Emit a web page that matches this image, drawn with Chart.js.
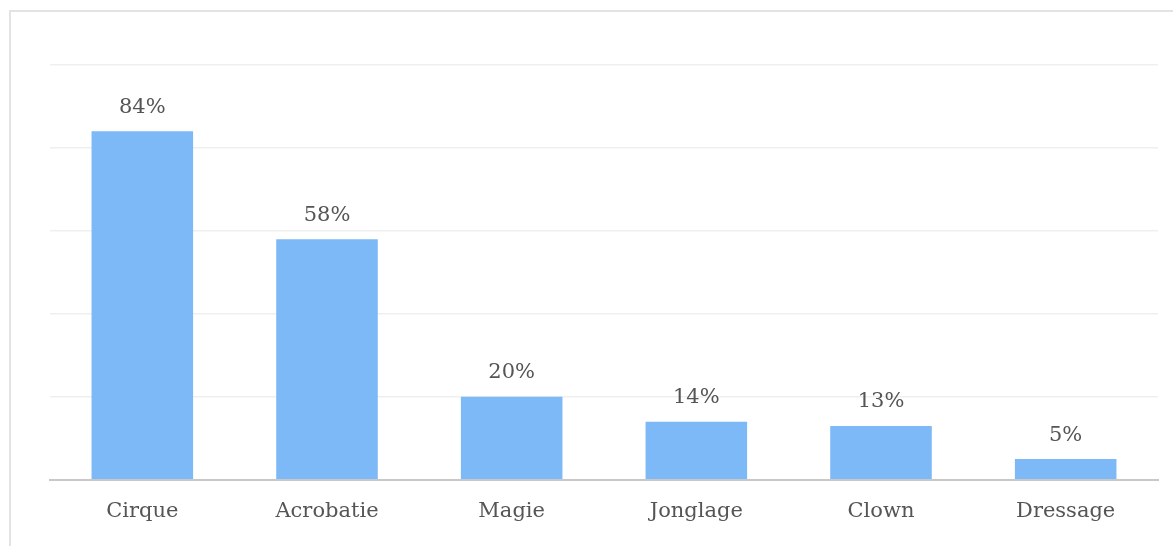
<!DOCTYPE html>
<html>
<head>
<meta charset="utf-8">
<script src="https://cdn.jsdelivr.net/npm/chart.js@4"></script>
<style>
  body { margin: 0; background: #fff; overflow: hidden; }
  #frame { position: absolute; left: 9px; top: 10px; width: 1200px; height: 600px; border: 2px solid #e3e3e3; }
  #wrap { position: absolute; left: 0; top: 0; width: 1173px; height: 546px; }
</style>
</head>
<body>
<div id="frame"></div>
<div id="wrap"><canvas id="chart"></canvas></div>
<script>
const categories = ['Cirque', 'Acrobatie', 'Magie', 'Jonglage', 'Clown', 'Dressage'];
const values = [84, 58, 20, 14, 13, 5];

const fontFamily = '"DejaVu Serif", serif';
const textColor = '#555555';

// draws the percentage above each bar
const valueLabels = {
    id: 'valueLabels',
    afterDatasetsDraw(chart) {
        const ctx = chart.ctx;
        const meta = chart.getDatasetMeta(0);
        ctx.save();
        ctx.font = '21px ' + fontFamily;
        ctx.fillStyle = textColor;
        ctx.textAlign = 'center';
        ctx.textBaseline = 'middle';
        meta.data.forEach(function(bar, i) {
            ctx.fillText(values[i] + '%', bar.x, bar.y - 24);
        });
        ctx.restore();
    }
};

new Chart(document.getElementById('chart'), {
    type: 'bar',
    data: {
        labels: categories,
        datasets: [{
            data: values,
            backgroundColor: '#7db9f6',
            borderWidth: 0,
            barPercentage: 0.55,
            categoryPercentage: 1
        }]
    },
    options: {
        responsive: true,
        maintainAspectRatio: false,
        animation: false,
        layout: { padding: { left: 50, right: 15, top: 65, bottom: 3 } },
        plugins: {
            legend: { display: false },
            tooltip: { enabled: false }
        },
        scales: {
            x: {
                grid: { display: false, drawTicks: false },
                border: { display: true, color: '#c8c8c8', width: 2 },
                ticks: { color: textColor, padding: 19, font: { family: fontFamily, size: 21 } }
            },
            y: {
                min: 0,
                max: 100,
                ticks: { display: false, stepSize: 20 },
                grid: { color: '#efefef', lineWidth: 1.5, drawTicks: false },
                border: { display: false }
            }
        }
    },
    plugins: [valueLabels]
});
</script>
</body>
</html>
